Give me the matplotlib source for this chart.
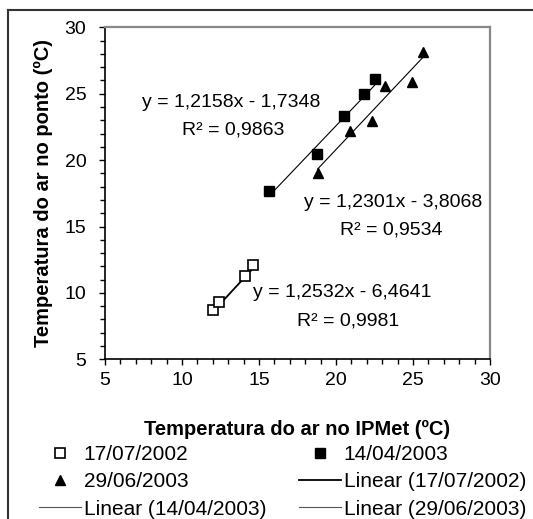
import numpy as np
import matplotlib
matplotlib.use('Agg')
import matplotlib.pyplot as plt
from matplotlib.lines import Line2D

plt.rcParams['font.family'] = ['Liberation Sans', 'DejaVu Sans']

# data
x_0207 = [12.0, 12.4, 14.1, 14.6]
y_0207 = [8.7, 9.3, 11.3, 12.1]

x_0403 = [15.65, 18.75, 20.55, 21.85, 22.5]
y_0403 = [17.7, 20.45, 23.3, 25.0, 26.1]

x_0603 = [18.8, 20.9, 22.35, 23.2, 24.95, 25.65]
y_0603 = [19.0, 22.2, 22.95, 25.6, 25.9, 28.15]

labels = ['17/07/2002', '14/04/2003', '29/06/2003']
slopes = [1.2532, 1.2158, 1.2301]
intercepts = [-6.4641, -1.7348, -3.8068]
r2 = [0.9981, 0.9863, 0.9534]

def eqtext(m, b):
    s = 'y = %.4fx - %.4f' % (m, abs(b))
    return s.replace('.', ',')

def r2text(r):
    return 'R² = ' + ('%.4f' % r).replace('.', ',')

fig = plt.figure(figsize=(5.33, 5.19), dpi=100)
ax = fig.add_axes([105/533, 1-359.3/519, 385/533, 332/519])

ax.plot(x_0207, y_0207, 's', mfc='white', mec='black', mew=1.2, ms=6.5, zorder=3)
ax.plot(x_0403, y_0403, 's', color='black', ms=6.5, zorder=3)
ax.plot(x_0603, y_0603, '^', color='black', ms=7.5, zorder=3)

lws = [1.3, 0.8, 0.8]
for xs, m, b, lw in zip([x_0207, x_0403, x_0603], slopes, intercepts, lws):
    xx = np.array([min(xs), max(xs)])
    ax.plot(xx, m*xx + b, '-', color='black', lw=lw, zorder=2)

fs = 14
# equation labels
ax.text(13.2, 24.35, eqtext(slopes[1], intercepts[1]), ha='center', va='center', fontsize=fs)
ax.text(13.3, 22.3, r2text(r2[1]), ha='center', va='center', fontsize=fs)
ax.text(23.7, 16.8, eqtext(slopes[2], intercepts[2]), ha='center', va='center', fontsize=fs)
ax.text(23.6, 14.75, r2text(r2[2]), ha='center', va='center', fontsize=fs)
ax.text(20.4, 10.0, eqtext(slopes[0], intercepts[0]), ha='center', va='center', fontsize=fs)
ax.text(20.8, 7.9, r2text(r2[0]), ha='center', va='center', fontsize=fs)

ax.set_xlim(5, 30)
ax.set_ylim(5, 30)
ax.set_xticks(np.arange(5, 31, 5))
ax.set_yticks(np.arange(5, 31, 5))
ax.set_xticks(np.arange(5, 31, 1), minor=True)
ax.set_yticks(np.arange(5, 31, 1), minor=True)
ax.tick_params(which='major', direction='out', length=4.5, width=1, labelsize=fs)
ax.tick_params(which='minor', direction='out', length=3.5, width=1)
ax.tick_params(axis='y', pad=9)
ax.tick_params(axis='x', pad=5)
for s in ['left', 'bottom']:
    ax.spines[s].set_color('black')
    ax.spines[s].set_linewidth(1.2)
for s in ['top', 'right']:
    ax.spines[s].set_color('#888888')
    ax.spines[s].set_linewidth(1.6)

ax.set_xlabel('Temperatura do ar no IPMet (ºC)', fontsize=14.5, fontweight='bold', labelpad=22)
ax.set_ylabel('Temperatura do ar no ponto (ºC)', fontsize=14.5, fontweight='bold', labelpad=8)

# legend, two columns placed side by side
h_sq_o = Line2D([], [], ls='none', marker='s', mfc='white', mec='black', mew=1.2, ms=6.5)
h_sq_f = Line2D([], [], ls='none', marker='s', color='black', ms=6.5)
h_tri = Line2D([], [], ls='none', marker='^', color='black', ms=7.5)
h_l0 = Line2D([], [], color='black', lw=1.3)
h_l1 = Line2D([], [], color='#555555', lw=0.8)
h_l2 = Line2D([], [], color='#555555', lw=0.8)

lfs = 15
common = dict(loc='upper left', frameon=False, fontsize=lfs, handlelength=2.0,
              handletextpad=0.15, labelspacing=0.4, borderaxespad=0, borderpad=0)
fig.legend([h_sq_o, h_tri, h_l1],
           [labels[0], labels[2], 'Linear (' + labels[1] + ')'],
           bbox_to_anchor=(39/533, 1-445/519), **common)
fig.legend([h_sq_f, h_l0, h_l2],
           [labels[1], 'Linear (' + labels[0] + ')', 'Linear (' + labels[2] + ')'],
           bbox_to_anchor=(299/533, 1-445/519), **common)

# outer frame
fig.add_artist(Line2D([8/533, 1], [1-10/519, 1-10/519], color='#333333', lw=1.5, transform=fig.transFigure))
fig.add_artist(Line2D([8/533, 8/533], [0, 1-10/519], color='#333333', lw=1.5, transform=fig.transFigure))

fig.savefig('out.png', dpi=100)
